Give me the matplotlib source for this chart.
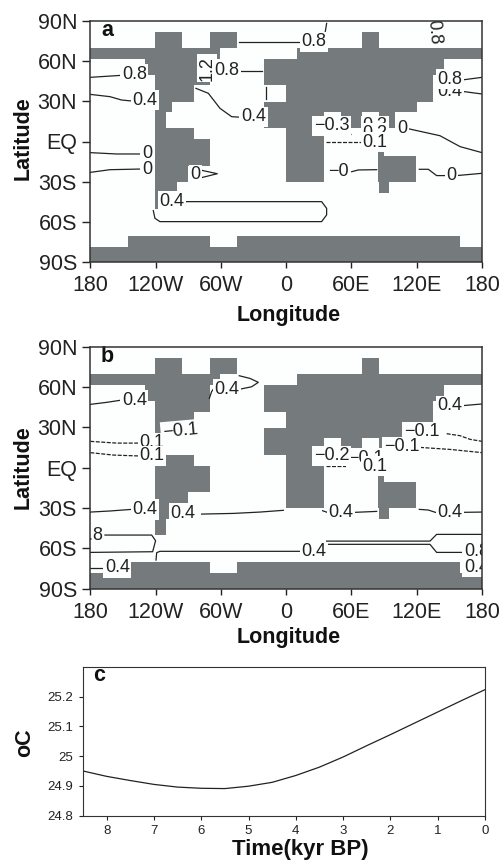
import matplotlib
matplotlib.use('Agg')
import matplotlib.pyplot as plt

plt.rcParams['font.family'] = ['Liberation Sans', 'DejaVu Sans']

# land mask: lat_top, lat_bottom, [(west, east), ...]
land_rows = [
    (81.3, 69.4, [(-120.5, -95.5), (-70, -45), (70, 85)]),
    (69.4, 61.5, [(-180, -60.5), (10, 180)]),
    (61.5, 49.5, [(-130, -70), (-20, 145)]),
    (49.5, 41.8, [(-120.5, -70), (-20, 135)]),
    (41.8, 29.5, [(-120.5, -85), (0, 135)]),
    (29.5, 22, [(-120.5, -105), (-20, 120)]),
    (22, 9.7, [(-120.5, -110.5), (-20, 35), (50, 70), (85, 100)]),
    (9.7, 1.6, [(-120.5, -85), (0, 35)]),
    (1.6, -6.3, [(-120.5, -70), (0, 35)]),
    (-6.3, -10.8, [(-120.5, -70), (0, 35), (84, 89.5)]),
    (-10.8, -18.4, [(-120.5, -70), (0, 35), (84, 119)]),
    (-18.4, -30.2, [(-120.5, -90), (0, 35), (84, 119)]),
    (-30.2, -38, [(-120.5, -100), (85.5, 94.5)]),
    (-38, -50.4, [(-120.5, -110)]),
    (-70.4, -78.6, [(-145, -70), (-45, 160)]),
    (-78.6, -90, [(-180, 180)]),
]

# panel a contours
solid_a = [
    ([-43.1, 14.2], [74.1, 74.1]),
    ([35.7, 37.2], [80.6, 88]),
    ([-180, -151.2], [47.8, 49.3]),
    ([-180, -161.9, -151.2, -142], [35.1, 33.4, 30.9, 30.2]),
    ([-180, -155.8, -132.8], [-8.3, -9.3, -9.3]),
    ([-180, -161.9, -132.8], [-23, -21, -20.5]),
    ([-79.2, -63.3, -77.7], [-21.2, -24, -26.9]),
    ([-92.1, 32.6, 37.2, 37.2, 32.6, -116, -120.6, -122.1],
     [-44.8, -44.8, -49.8, -54.7, -59.7, -59.7, -57.2, -51.5]),
    ([-82.9, -71.5, -60.8, -50.1, -40.9], [39.6, 35.9, 24.7, 18.5, 18]),
    ([-42.4, -22.5], [52.5, 52.5]),
    ([-18.2, -18.2], [40.3, 31.7]),
    ([161.3, 180], [45.8, 47.8]),
    ([161.3, 180], [37.4, 35.4]),
    ([110.7, 141.4, 159.8, 180], [9.8, 4.3, -3.8, -8.3]),
    ([122.4, 130.7, 138.3, 147.5], [-20.7, -20.7, -25.4, -25.4]),
    ([156.7, 180], [-25.4, -23.7]),
    ([37.2, 46.4], [-23, -23]),
    ([60.2, 66.3, 83.2], [-22.5, -21.2, -21]),
]
dash_a = [
    ([36.6, 59.3], [5.3, 5.3]),
    ([36.6, 70.3], [-0.6, -0.6]),
]
# lon, lat, text, rotation (later ones sit on top of earlier ones)
labels_a = [
    (-139.6, 50, '0.8', 0),
    (-129.8, 30.9, '0.4', 0),
    (-127.9, -9.1, '0', 0),
    (-127.9, -20.5, '0', 0),
    (-83.2, -24.9, '0', 0),
    (-104.9, -44.6, '0.4', 0),
    (-72.5, 54.5, '1.2', 90),
    (-54.4, 52.8, '0.8', 0),
    (-29.9, 18.3, '0.4', 0),
    (25.3, 74.4, '0.8', 0),
    (135.3, 81.8, '0.8', -85),
    (150.3, 36.9, '0.4', 0),
    (150.3, 46.3, '0.8', 0),
    (41.8, 11.8, '\u22120.3', 0),
    (107.1, 9.8, '0', 0),
    (47.9, -22.5, '\u22120', 0),
    (81.5, 11.8, '0.3', 0),
    (81.5, 6.1, '0.2', 0),
    (81.6, -0.6, '0.1', 0),
    (152.1, -25, '0', 0),
]

# panel b contours
solid_b = [
    ([-180, -165, -151.2], [47.1, 48.6, 50.3]),
    ([-70.6, -68.5, -67], [51.6, 56.6, 58.3]),
    ([-43.1, -31.7, -25.6, -33.2, -43.1], [58.3, 60.2, 63.5, 66.4, 68.4]),
    ([-180, -161.9, -142], [-33, -32.2, -31]),
    ([-77.7, -48.6, -24.1, -2.6], [-34.5, -34, -33, -31.7]),
    ([33.5, 38.7], [-32, -33.5]),
    ([63.3, 83.2], [-33.2, -32.5]),
    ([122.4, 130.7, 138.3], [-31, -31.5, -33.5]),
    ([162.8, 180], [-33.2, -33]),
    ([-166.5, -123.6, -120, -122.7, -180], [-50.1, -50.1, -54.3, -62.5, -63]),
    ([-119.6, -119, -116, 14.2], [-68.7, -63.2, -62.2, -62.2]),
    ([37.2, 132.2, 138.3, 180], [-54.6, -54.6, -49.6, -49.6]),
    ([37.2, 132.2, 138.3, 161.3], [-57, -57, -63, -63]),
    ([-180, -166.5], [-74.6, -74.6]),
    ([161.3, 180], [46.1, 47.4]),
]
dash_b = [
    ([-180, -155.8, -134.3], [19.6, 18.3, 18.3]),
    ([-180, -158.9, -134.3], [11.2, 9.4, 8.7]),
    ([147.5, 159.8, 169, 180], [25.3, 23.8, 21.1, 19.6]),
    ([123, 150.6, 180], [15.1, 13.6, 11.2]),
    ([36.6, 70.3], [1.2, 1.2]),
]
labels_b = [
    (-139.6, 50, '0.4', 0),
    (-54.7, 58.3, '0.4', 0),
    (-97.6, 27.5, '\u22120.1', 5),
    (-123.6, 18.6, '0.1', 0),
    (-123.6, 8.9, '0.1', 0),
    (-129.8, -31, '0.4', 0),
    (-95.1, -34, '0.4', 0),
    (50.1, -33.2, '0.4', 0),
    (150.6, -33.2, '0.4', 0),
    (-180, -50.1, '0.8', 0),
    (25.3, -62.5, '0.4', 0),
    (-155.2, -74.4, '0.4', 0),
    (175, -62.6, '0.8', 0),
    (175, -74.1, '0.4', 0),
    (150.3, 46.1, '0.4', 0),
    (124.5, 26.8, '\u22120.1', 0),
    (106.2, 15.6, '\u22120.1', 0),
    (73, 7, '\u22120.1', 0),
    (41.8, 8.9, '\u22120.2', 0),
    (81.6, 1.2, '0.1', 0),
]

# panel c
time_kyr = [8.5, 8, 7.5, 7, 6.5, 6, 5.5, 5, 4.5, 4, 3.5, 3, 2.5, 2, 1.5, 1, 0.5, 0]
temp_c = [24.95, 24.932, 24.918, 24.905, 24.896, 24.892, 24.891, 24.899, 24.912,
          24.935, 24.963, 24.997, 25.035, 25.072, 25.11, 25.148, 25.186, 25.223]

lon_ticks = [-180, -120, -60, 0, 60, 120, 180]
lon_names = ['180', '120W', '60W', '0', '60E', '120E', '180']
lat_ticks = [90, 60, 30, 0, -30, -60, -90]
lat_names = ['90N', '60N', '30N', 'EQ', '30S', '60S', '90S']

W, H = 504, 861
LAND = '#757b7d'
INK = '#222222'
BG = '#fdfefe'

fig = plt.figure(figsize=(W / 100, H / 100), dpi=100)


def add_axes(left, right, top, bottom):
    return fig.add_axes([left / W, 1 - bottom / H, (right - left) / W, (bottom - top) / H])


def draw_map(ax, solid, dash, labels, tag):
    ax.set_facecolor(BG)
    for top, bottom, spans in land_rows:
        ax.broken_barh([(w, e - w) for w, e in spans], (bottom, top - bottom),
                       facecolor=LAND, edgecolor=LAND, linewidth=0, zorder=1)
    for x, y in solid:
        ax.plot(x, y, color=INK, lw=0.9, zorder=2)
    for x, y in dash:
        ax.plot(x, y, color=INK, lw=0.9, dashes=(3.2, 1.2), zorder=2)
    for i, (x, y, s, rot) in enumerate(labels):
        ax.text(x, y, s, rotation=rot, rotation_mode='anchor', ha='center', va='center',
                fontsize=13, color=INK, zorder=3 + i * 0.01, clip_on=True,
                bbox=dict(facecolor=BG, edgecolor='none', pad=1.2))
    ax.text(-164.4, 83, tag, fontsize=15.5, fontweight='bold', color='#111111',
            ha='center', va='center', zorder=5)
    ax.set_xlim(-180, 180)
    ax.set_ylim(-90, 90)
    ax.set_xticks(lon_ticks)
    ax.set_xticklabels(lon_names)
    ax.set_yticks(lat_ticks)
    ax.set_yticklabels(lat_names)
    ax.tick_params(axis='x', length=4.5, width=1, pad=5, labelsize=15.5, colors=INK)
    ax.tick_params(axis='y', length=5.5, width=1, pad=4, labelsize=15.5, colors=INK)
    for s in ax.spines.values():
        s.set_linewidth(1.1)
        s.set_color('#333333')
        s.set_zorder(6)


ax_a = add_axes(90.3, 482, 20.7, 262.3)
draw_map(ax_a, solid_a, dash_a, labels_a, 'a')
ax_b = add_axes(90.3, 482, 346.7, 588.7)
draw_map(ax_b, solid_b, dash_b, labels_b, 'b')

ax_c = add_axes(83, 485, 666.7, 815.7)
ax_c.plot(time_kyr, temp_c, color=INK, lw=0.9)
ax_c.set_xlim(8.5, 0)
ax_c.set_ylim(24.8, 25.3)
ax_c.set_xticks(range(8, -1, -1))
ax_c.set_yticks([24.8, 24.9, 25, 25.1, 25.2])
ax_c.set_yticklabels(['24.8', '24.9', '25', '25.1', '25.2'])
ax_c.tick_params(length=3, width=0.8, pad=4, labelsize=9.5, colors=INK)
for s in ax_c.spines.values():
    s.set_linewidth(0.8)
    s.set_color('#333333')
ax_c.text(8.16, 25.27, 'c', fontsize=15.5, fontweight='bold', color='#111111',
          ha='center', va='center')

# axis titles
for x, y, s, size, rot in [(289, 315, 'Longitude', 15.5, 0), (289, 637, 'Longitude', 15.5, 0),
                           (22.7, 138, 'Latitude', 15.5, 90), (22.7, 467, 'Latitude', 15.5, 90),
                           (300.7, 850, 'Time(kyr BP)', 16, 0), (25, 743, 'oC', 15.5, 90)]:
    fig.text(x / W, 1 - y / H, s, fontsize=size, fontweight='bold', rotation=rot,
             ha='center', va='center', color='#111111')

plt.savefig('out.png', dpi=100)
